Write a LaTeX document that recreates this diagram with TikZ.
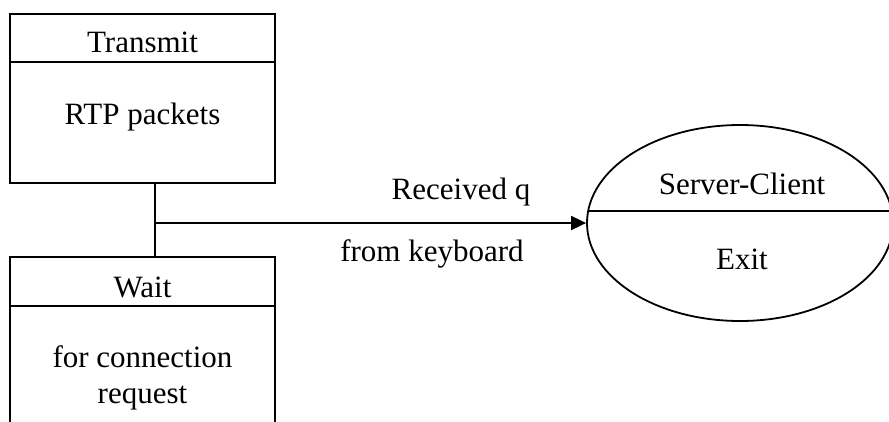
\documentclass[tikz,border=0pt]{standalone}
\usepackage{fontspec}
\setmainfont{Liberation Serif}
\usetikzlibrary{arrows.meta,shapes.geometric}
\begin{document}
\begin{tikzpicture}[x=1pt,y=-1pt,
  every node/.style={font=\fontsize{31}{36}\selectfont},
  statebox/.style={draw,line width=1.8pt,rectangle,inner sep=0pt},
  stateoval/.style={draw,line width=1.8pt,ellipse,inner sep=0pt},
  link/.style={line width=1.8pt},
  lbl/.style={inner sep=0pt,anchor=center}]
\useasboundingbox (0,0) rectangle (889,421);
\begin{scope}
\clip (0,0) rectangle (889,421);
% Transmit state
\node[statebox,minimum width=265pt,minimum height=169pt] (tx) at (142.5,98.5) {};
\draw[link] (10,62) -- (275,62);
\node[lbl] (txh) at (142.5,42) {Transmit};
\node[lbl] (txb) at (142.5,117) {RTP packets};
% Wait state
\node[statebox,minimum width=265pt,minimum height=183pt] (wt) at (142.5,348.5) {};
\draw[link] (10,306) -- (275,306);
\node[lbl] (wth) at (142.5,287) {Wait};
\node[lbl,align=center] (wtb) at (142.5,378) {for connection\\request};
% Exit state
\node[stateoval,minimum width=306pt,minimum height=196pt] (ex) at (740,223) {};
\draw[link] (588.6,211) -- (891.4,211);
\node[lbl] (exh) at (742,184) {Server-Client};
\node[lbl] (exb) at (742,259) {Exit};
% Transition
\coordinate (jx) at (155,223);
\draw[link] (tx.south -| jx) -- (wt.north -| jx);
\draw[link,-{Triangle[length=15pt,width=14pt]}] (jx) -- (ex.west);
\node[lbl] (l1) at (461,192) {Received q};
\node[lbl] (l2) at (432,254) {from keyboard};
\end{scope}
\end{tikzpicture}
\end{document}
